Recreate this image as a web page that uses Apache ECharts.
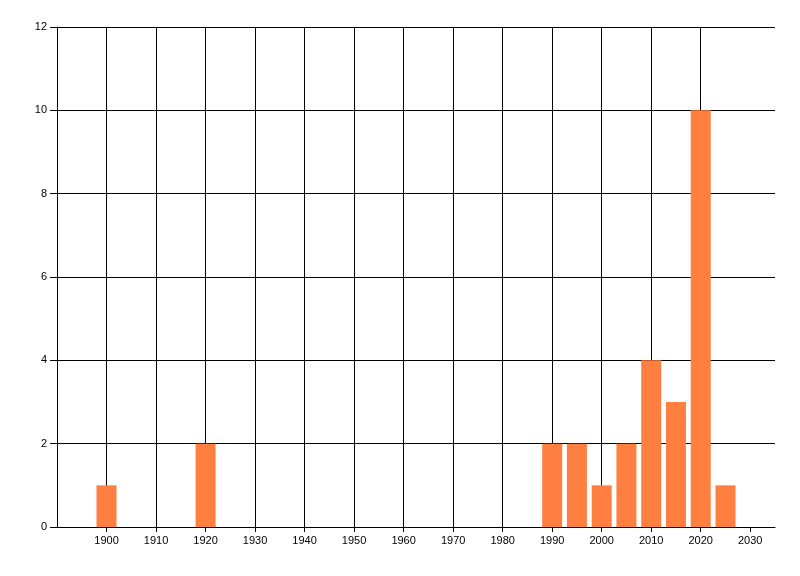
<!DOCTYPE html>
<html>
<head>
<meta charset="utf-8">
<script src="https://cdn.jsdelivr.net/npm/echarts@6/dist/echarts.min.js"></script>
<style>
  html, body { margin: 0; padding: 0; background: #fff; }
  #chart { width: 800px; height: 576px; }
</style>
</head>
<body>
<div id="chart"></div>
<script>
// data
const years = [1900, 1920, 1990, 1995, 2000, 2005, 2010, 2015, 2020, 2025]
const counts = [1, 2, 2, 2, 1, 2, 4, 3, 10, 1]
const xTicks = [1900, 1910, 1920, 1930, 1940, 1950, 1960, 1970, 1980, 1990, 2000, 2010, 2020, 2030]

const LABEL_FONT = { color: '#000', fontFamily: 'Liberation Sans, Arial, sans-serif', fontSize: 11 }
const LINE = { color: '#000', width: 1 }

const chart = echarts.init(document.getElementById('chart'), null, { renderer: 'canvas' })

chart.setOption({
  animation: false,
  backgroundColor: '#fff',
  grid: { left: 57, right: 25, top: 27, bottom: 49, containLabel: false },
  xAxis: {
    type: 'value',
    min: 1890,
    max: 2035,
    interval: 10,
    axisLine: { show: true, lineStyle: LINE },
    axisTick: { show: true, length: 5, lineStyle: LINE, customValues: xTicks },
    axisLabel: { ...LABEL_FONT, margin: 8, customValues: xTicks, formatter: v => String(v) },
    splitLine: { show: true, showMinLine: true, showMaxLine: false, lineStyle: LINE },
  },
  yAxis: {
    type: 'value',
    min: 0,
    max: 12,
    interval: 2,
    axisLine: { show: true, lineStyle: LINE },
    axisTick: { show: true, length: 7, lineStyle: LINE },
    axisLabel: { ...LABEL_FONT, margin: 10 },
    splitLine: { show: true, lineStyle: LINE },
  },
  series: [
    {
      type: 'bar',
      barWidth: 20,
      z: 1,
      itemStyle: { color: '#ff7f41' },
      data: years.map((y, i) => [y, counts[i]]),
    },
  ],
})
</script>
</body>
</html>
